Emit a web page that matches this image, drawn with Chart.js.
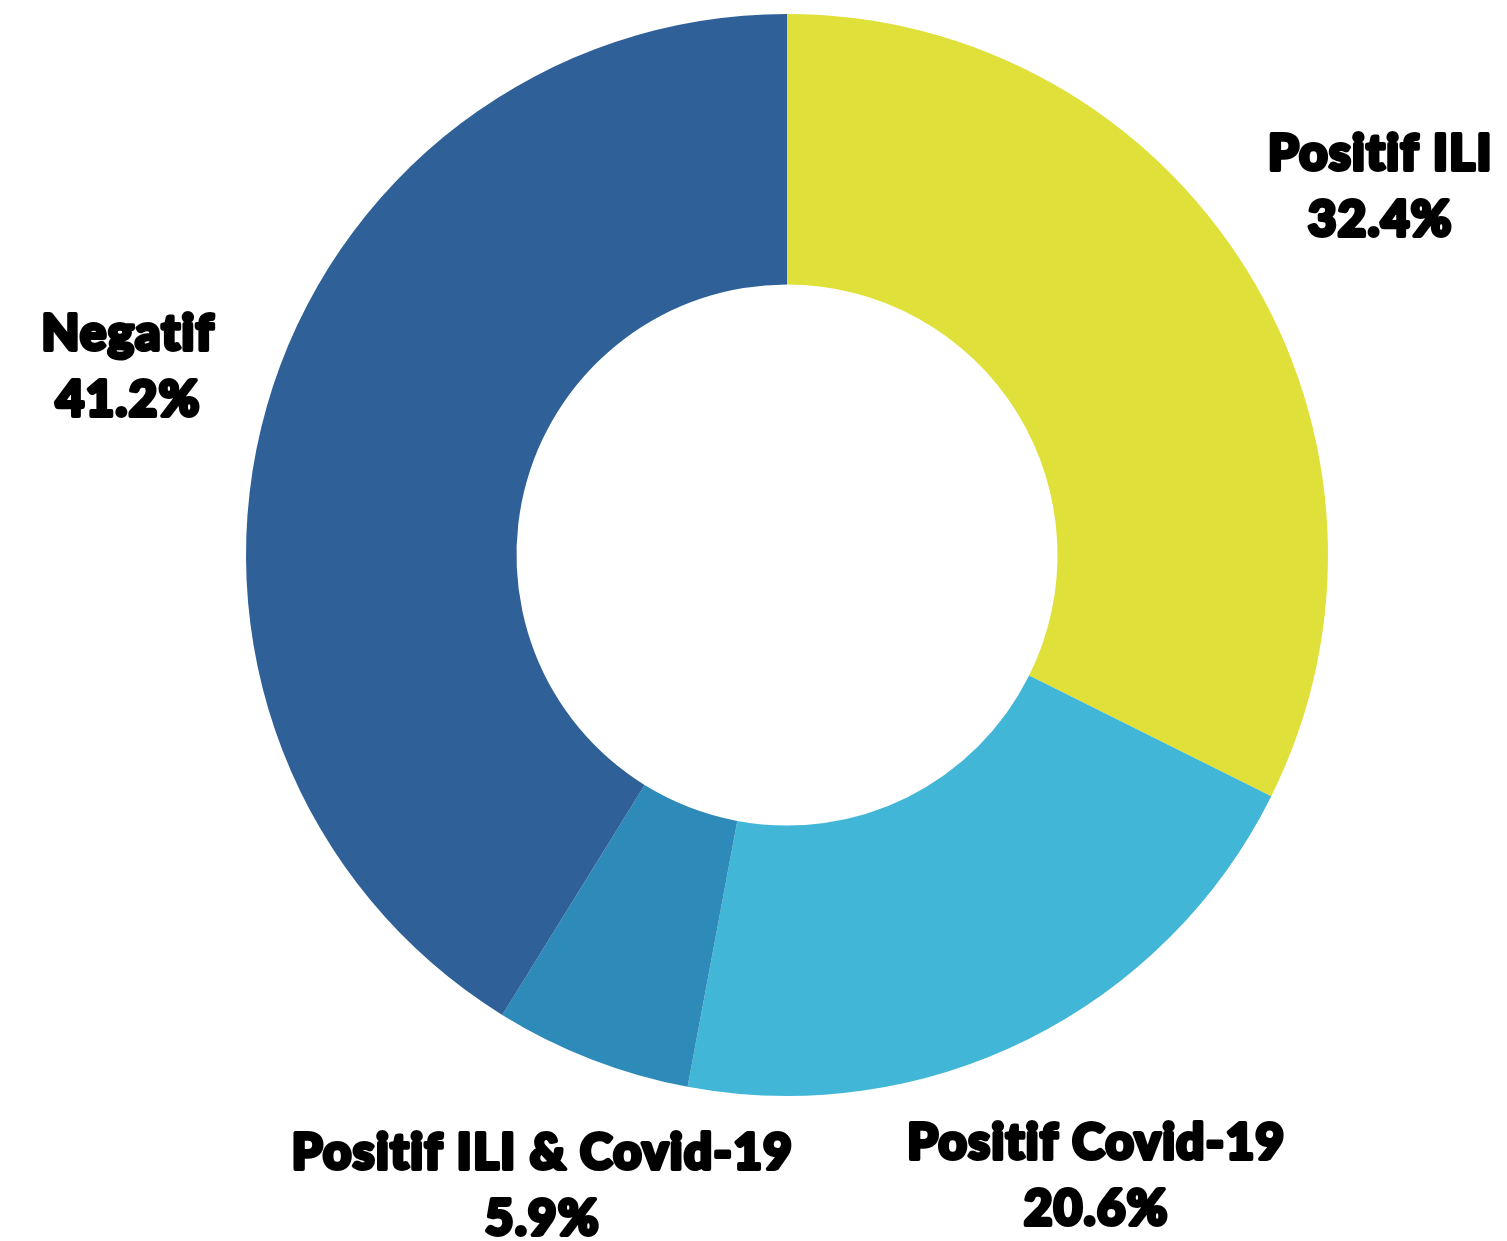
<!DOCTYPE html>
<html lang="id">
<head>
    <meta charset="UTF-8">
    <title>Hasil Tes ILI dan Covid-19</title>
    <script src="https://cdn.jsdelivr.net/npm/chart.js@4.4.0/dist/chart.umd.min.js"></script>
    <style>
        html, body {
            margin: 0;
            padding: 0;
            background: #ffffff;
        }
        .chart-box {
            width: 1507px;
            height: 1241px;
            position: relative;
        }
    </style>
</head>
<body>
    <div class="chart-box">
        <canvas id="donutChart"></canvas>
    </div>

    <script>
        // Data
        const categories = ['Positif ILI', 'Positif Covid-19', 'Positif ILI & Covid-19', 'Negatif'];
        const counts = [11, 7, 2, 14];
        const sliceColors = ['#E0E03A', '#42B6D6', '#2E8AB8', '#2F6098'];

        const total = counts.reduce((a, b) => a + b, 0);

        // Draws the outside labels at each arc's mid-angle
        const outsideLabels = {
            id: 'outsideLabels',
            afterDatasetsDraw(chart, args, opts) {
                const ctx = chart.ctx;
                const meta = chart.getDatasetMeta(0);
                ctx.save();
                ctx.font = '900 49px Lato, "DejaVu Sans", sans-serif';
                ctx.letterSpacing = '1.5px';
                ctx.textAlign = 'center';
                ctx.textBaseline = 'middle';
                ctx.lineJoin = 'round';
                meta.data.forEach((arc, i) => {
                    const mid = (arc.startAngle + arc.endAngle) / 2;
                    const r = arc.outerRadius * opts.radius[i];
                    const x = arc.x + Math.cos(mid) * r;
                    const y = arc.y + Math.sin(mid) * r;
                    const pct = (counts[i] / total * 100).toFixed(1) + '%';
                    const lines = [categories[i], pct];
                    lines.forEach((txt, j) => {
                        const ly = y + (j - 0.5) * 66;
                        ctx.lineWidth = 4;
                        ctx.strokeStyle = '#000';
                        ctx.strokeText(txt, x, ly);
                        ctx.fillStyle = '#000';
                        ctx.fillText(txt, x, ly);
                    });
                });
                ctx.restore();
            }
        };

        const ctx = document.getElementById('donutChart').getContext('2d');
        const donutChart = new Chart(ctx, {
            type: 'doughnut',
            data: {
                labels: categories,
                datasets: [{
                    data: counts,
                    backgroundColor: sliceColors,
                    borderWidth: 0
                }]
            },
            options: {
                responsive: true,
                maintainAspectRatio: false,
                animation: false,
                cutout: '50%',
                layout: {
                    padding: { left: 246, right: 179, top: 14, bottom: 145 }
                },
                plugins: {
                    legend: { display: false },
                    tooltip: { enabled: false },
                    outsideLabels: { radius: [1.29, 1.283, 1.251, 1.266] }
                }
            },
            plugins: [outsideLabels]
        });
    </script>
</body>
</html>
